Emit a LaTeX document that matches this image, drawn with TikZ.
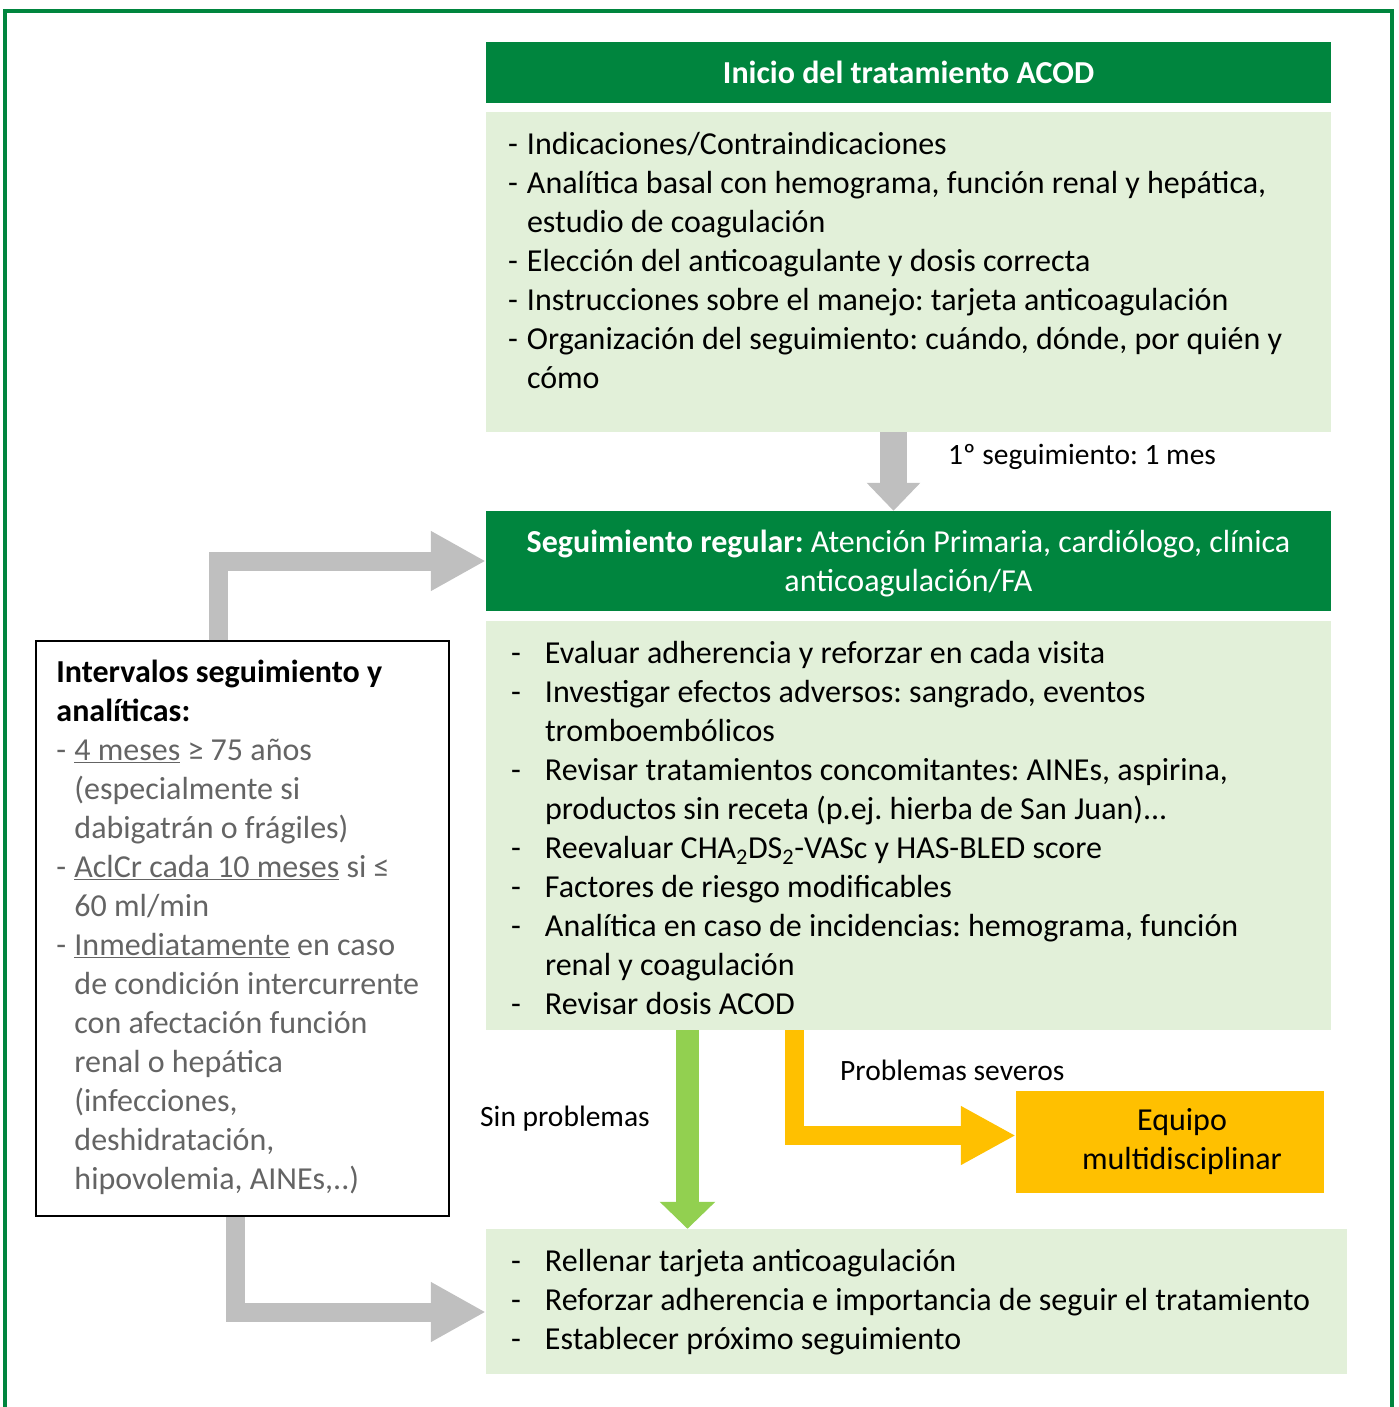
\documentclass[tikz,border=0pt]{standalone}
\usepackage{fontspec}
\setmainfont{Carlito}
\usetikzlibrary{arrows.meta}
\definecolor{verdeOscuro}{RGB}{0,133,62}
\definecolor{verdeClaro}{RGB}{226,240,217}
\definecolor{verdeFlecha}{RGB}{146,208,80}
\definecolor{amarillo}{RGB}{255,192,0}
\definecolor{grisFlecha}{RGB}{191,191,191}
\definecolor{grisTexto}{RGB}{100,100,100}
\newcommand{\guion}[2]{\makebox[#1][l]{-}#2}
\frenchspacing

\begin{document}
\begin{tikzpicture}[x=1pt,y=-1pt,font=\fontsize{32}{39}\selectfont,
    cabecera/.style={fill=verdeOscuro,text=white,inner sep=0pt,minimum width=845pt,align=center},
    caja/.style={fill=verdeClaro,inner sep=0pt},
    texto/.style={align=left,inner sep=0pt,anchor=north west},
    etiqueta/.style={anchor=west,inner sep=0pt,font=\fontsize{29.5}{36}\selectfont},
    flecha/.style n args={4}{draw=#1,line width=#2,-{Triangle[width=#3,length=#4]}}]
    \useasboundingbox (0,0) rectangle (1398,1407);
    % marco verde
    \draw[verdeOscuro,line width=4pt] (5,1407) -- (5,11.5) -- (1392,11.5) -- (1392,1407);

    \node[cabecera,minimum height=61pt,font=\fontsize{32}{39}\selectfont\bfseries] (inicio) at (908.5,72.5) {Inicio del tratamiento ACOD};
    \node[caja,minimum width=845pt,minimum height=320pt] (caja1) at (908.5,272) {};
    \node[texto] (lista1) at ([xshift=22pt,yshift=-20pt]caja1.north west) {%
        \guion{19pt}{Indicaciones/Contraindicaciones}\\
        \guion{19pt}{Analítica basal con hemograma, función renal y hepática,}\\
        \hspace*{19pt}estudio de coagulación\\
        \guion{19pt}{Elección del anticoagulante y dosis correcta}\\
        \guion{19pt}{Instrucciones sobre el manejo: tarjeta anticoagulación}\\
        \guion{19pt}{Organización del seguimiento: cuándo, dónde, por quién y}\\
        \hspace*{19pt}cómo};

    \node[cabecera,minimum height=100pt,text depth=0pt] (regular) at (908.5,561)
        {\textbf{Seguimiento regular:} Atención Primaria, cardiólogo, clínica\\ anticoagulación/FA};
    \node[caja,minimum width=845pt,minimum height=409pt] (caja2) at (908.5,825.5) {};
    \node[texto] (lista2) at ([xshift=25pt,yshift=-20pt]caja2.north west) {%
        \guion{34pt}{Evaluar adherencia y reforzar en cada visita}\\
        \guion{34pt}{Investigar efectos adversos: sangrado, eventos}\\
        \hspace*{34pt}tromboembólicos\\
        \guion{34pt}{Revisar tratamientos concomitantes: AINEs, aspirina,}\\
        \hspace*{34pt}productos sin receta (p.ej. hierba de San Juan)...\\
        \guion{34pt}{Reevaluar CHA\textsubscript{2}DS\textsubscript{2}-VASc y HAS-BLED score}\\
        \guion{34pt}{Factores de riesgo modificables}\\
        \guion{34pt}{Analítica en caso de incidencias: hemograma, función}\\
        \hspace*{34pt}renal y coagulación\\
        \guion{34pt}{Revisar dosis ACOD}};

    \node[caja,minimum width=861pt,minimum height=145pt] (caja3) at (916.5,1301.5) {};
    \node[texto] (lista3) at ([xshift=25pt,yshift=-20pt]caja3.north west) {%
        \guion{34pt}{Rellenar tarjeta anticoagulación}\\
        \guion{34pt}{Reforzar adherencia e importancia de seguir el tratamiento}\\
        \guion{34pt}{Establecer próximo seguimiento}};

    \node[draw=black,line width=1.5pt,minimum width=413pt,minimum height=575pt,inner sep=0pt] (intervalos) at (242.5,928.5) {};
    \node[texto] (lista4) at ([xshift=21pt,yshift=-20pt]intervalos.north west) {%
        \textbf{Intervalos seguimiento y}\\
        \textbf{analíticas:}\\
        \color{grisTexto}\guion{18pt}{\underline{4 meses} ≥ 75 años}\\
        \color{grisTexto}\hspace*{18pt}(especialmente si\\
        \color{grisTexto}\hspace*{18pt}dabigatrán o frágiles)\\
        \color{grisTexto}\guion{18pt}{\underline{AclCr cada 10 meses} si ≤}\\
        \color{grisTexto}\hspace*{18pt}60 ml/min\\
        \color{grisTexto}\guion{18pt}{\underline{Inmediatamente} en caso}\\
        \color{grisTexto}\hspace*{18pt}de condición intercurrente\\
        \color{grisTexto}\hspace*{18pt}con afectación función\\
        \color{grisTexto}\hspace*{18pt}renal o hepática\\
        \color{grisTexto}\hspace*{18pt}(infecciones,\\
        \color{grisTexto}\hspace*{18pt}deshidratación,\\
        \color{grisTexto}\hspace*{18pt}hipovolemia, AINEs,..)};

    \node[fill=amarillo,minimum width=308pt,minimum height=102pt,inner sep=0pt,align=center] (equipo) at (1170,1142)
        {\hspace*{24pt}Equipo\\ \hspace*{24pt}multidisciplinar};

    % flechas
    \draw[flecha={grisFlecha}{27pt}{52pt}{28pt}] ([xshift=-15pt]caja1.south) -- ([xshift=-15pt]caja1.south |- regular.north);
    \node[etiqueta] (primero) at (948,457) {1º seguimiento: 1 mes};
    \draw[flecha={grisFlecha}{19pt}{56pt}{55pt}] ([xshift=-24.5pt]intervalos.north) |- (regular.west);
    \draw[flecha={grisFlecha}{19pt}{56pt}{55pt}] ([xshift=-7pt]intervalos.south) |- ([yshift=-10.5pt]caja3.west);
    \draw[flecha={verdeFlecha}{23pt}{54pt}{27pt}] ([xshift=-221pt]caja2.south) -- ([xshift=-221pt]caja2.south |- caja3.north);
    \draw[flecha={amarillo}{19pt}{55pt}{55pt}] ([xshift=-114pt]caja2.south) |- ([yshift=6.5pt]equipo.west);
    \node[etiqueta] (severos) at (840,1070) {Problemas severos};
    \node[etiqueta] (sinproblemas) at (480,1119) {Sin problemas};
\end{tikzpicture}
\end{document}
